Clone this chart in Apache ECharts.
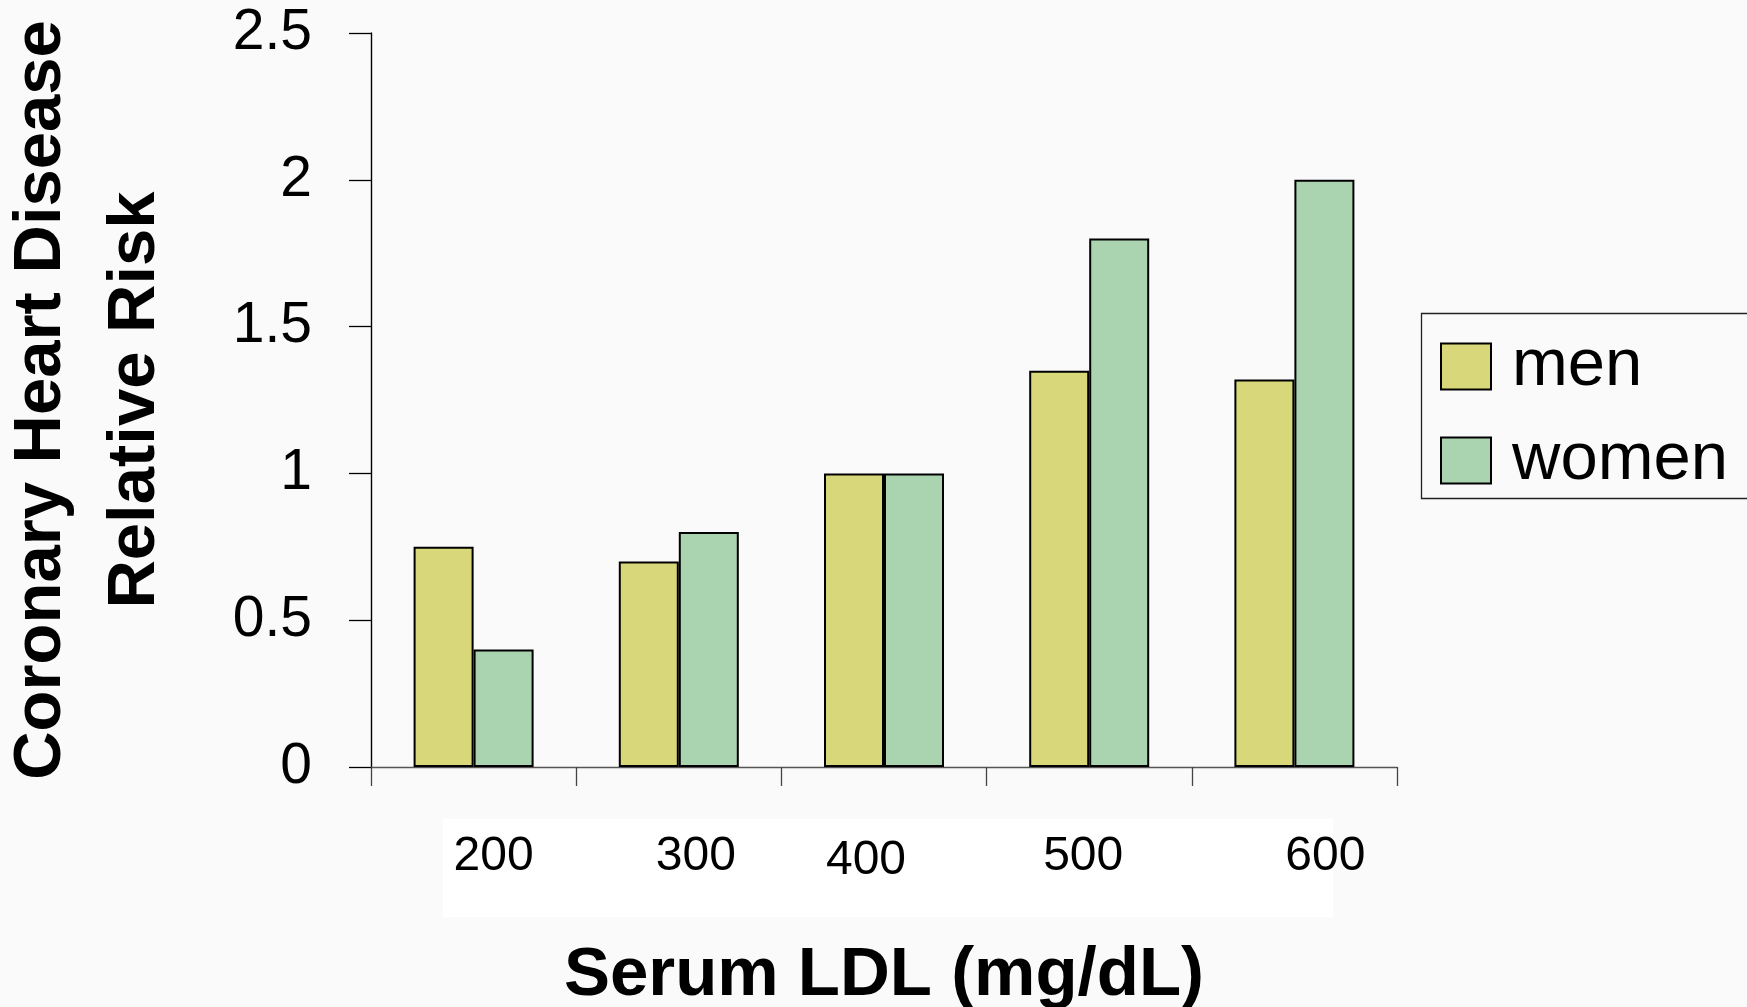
<!DOCTYPE html>
<html>
<head>
<meta charset="utf-8">
<title>Serum LDL vs CHD relative risk</title>
<script src="https://cdn.jsdelivr.net/npm/echarts@6/dist/echarts.min.js"></script>
<style>
	html, body { margin: 0; padding: 0; background: #fafafa; }
	#main { width: 1747px; height: 1007px; }
</style>
</head>
<body>
<div id="main"></div>
<script>
// data
var categories = ['200', '300', '400', '500', '600'];
var menRisk = [0.75, 0.70, 1.00, 1.35, 1.32];
var womenRisk = [0.40, 0.80, 1.00, 1.80, 2.00];
var yMin = 0, yMax = 2.5, yStep = 0.5;

// labels in the original sit a little off the category centres
var labelShift = [20, 17, -18, -6, 31];
var labelDrop = [0, 0, 4, 0, 0];

var fontFamily = '"Liberation Sans", Arial, sans-serif';

var rich = {};
labelShift.forEach(function (s, i) {
	rich['l' + i] = {
		fontSize: 48,
		fontFamily: fontFamily,
		color: '#000',
		padding: s >= 0 ? [labelDrop[i], 0, 0, 2 * s] : [labelDrop[i], -2 * s, 0, 0]
	};
});

var myChart = echarts.init(document.getElementById('main'));

var option = {
	backgroundColor: '#fafafa',
	animation: false,
	grid: {
		left: 371,
		right: 350,
		top: 33,
		bottom: 240,
		containLabel: false,
		outerBoundsMode: 'none'
	},
	legend: {
		orient: 'vertical',
		left: 1435,
		top: 328,
		padding: 5,
		itemWidth: 50,
		itemHeight: 46,
		itemGap: 27,
		icon: 'rect',
		data: ['men', 'women'],
		itemStyle: { borderColor: '#000', borderWidth: 2 },
		textStyle: {
			fontSize: 67,
			fontFamily: fontFamily,
			color: '#000',
			padding: [0, 0, 0, 16]
		}
	},
	graphic: [
		{ // white panel behind x labels
			type: 'rect',
			left: 443, top: 819,
			shape: { width: 890, height: 98 },
			style: { fill: '#ffffff' },
			z: -10,
			silent: true
		},
		{ // legend frame
			type: 'rect',
			left: 1419, top: 311,
			shape: { width: 400, height: 185 },
			style: { fill: 'none', stroke: '#222', lineWidth: 1.3 },
			silent: true
		}
	],
	xAxis: {
		type: 'category',
		data: categories,
		name: 'Serum LDL (mg/dL)',
		nameLocation: 'middle',
		nameGap: 174,
		nameTextStyle: {
			fontSize: 69,
			fontWeight: 'bold',
			fontFamily: fontFamily,
			color: '#000'
		},
		axisLine: { lineStyle: { color: '#555', width: 1.3 } },
		axisTick: { show: true, length: 19, lineStyle: { color: '#444', width: 1.3 } },
		axisLabel: {
			margin: 66,
			formatter: function (v, i) { return '{l' + i + '|' + v + '}'; },
			rich: rich
		},
		splitLine: { show: false }
	},
	yAxis: {
		type: 'value',
		min: yMin,
		max: yMax,
		interval: yStep,
		name: 'Coronary Heart Disease\nRelative Risk',
		nameLocation: 'middle',
		nameGap: 188,
		nameTextStyle: {
			fontSize: 67,
			lineHeight: 94,
			fontWeight: 'bold',
			fontFamily: fontFamily,
			color: '#000'
		},
		axisLine: { show: true, lineStyle: { color: '#000', width: 1.4 } },
		axisTick: { show: true, length: 22, lineStyle: { color: '#000', width: 1.3 } },
		axisLabel: {
			margin: 59,
			fontSize: 57,
			fontFamily: fontFamily,
			color: '#000'
		},
		splitLine: { show: false }
	},
	series: [
		{
			name: 'men',
			type: 'bar',
			data: menRisk,
			barWidth: 60,
			barGap: '0%',
			itemStyle: { color: '#d8d87a', borderColor: '#000', borderWidth: 2 }
		},
		{
			name: 'women',
			type: 'bar',
			data: womenRisk,
			barWidth: 60,
			barGap: '0%',
			itemStyle: { color: '#aad3b0', borderColor: '#000', borderWidth: 2 }
		}
	]
};

myChart.setOption(option);
</script>
</body>
</html>
